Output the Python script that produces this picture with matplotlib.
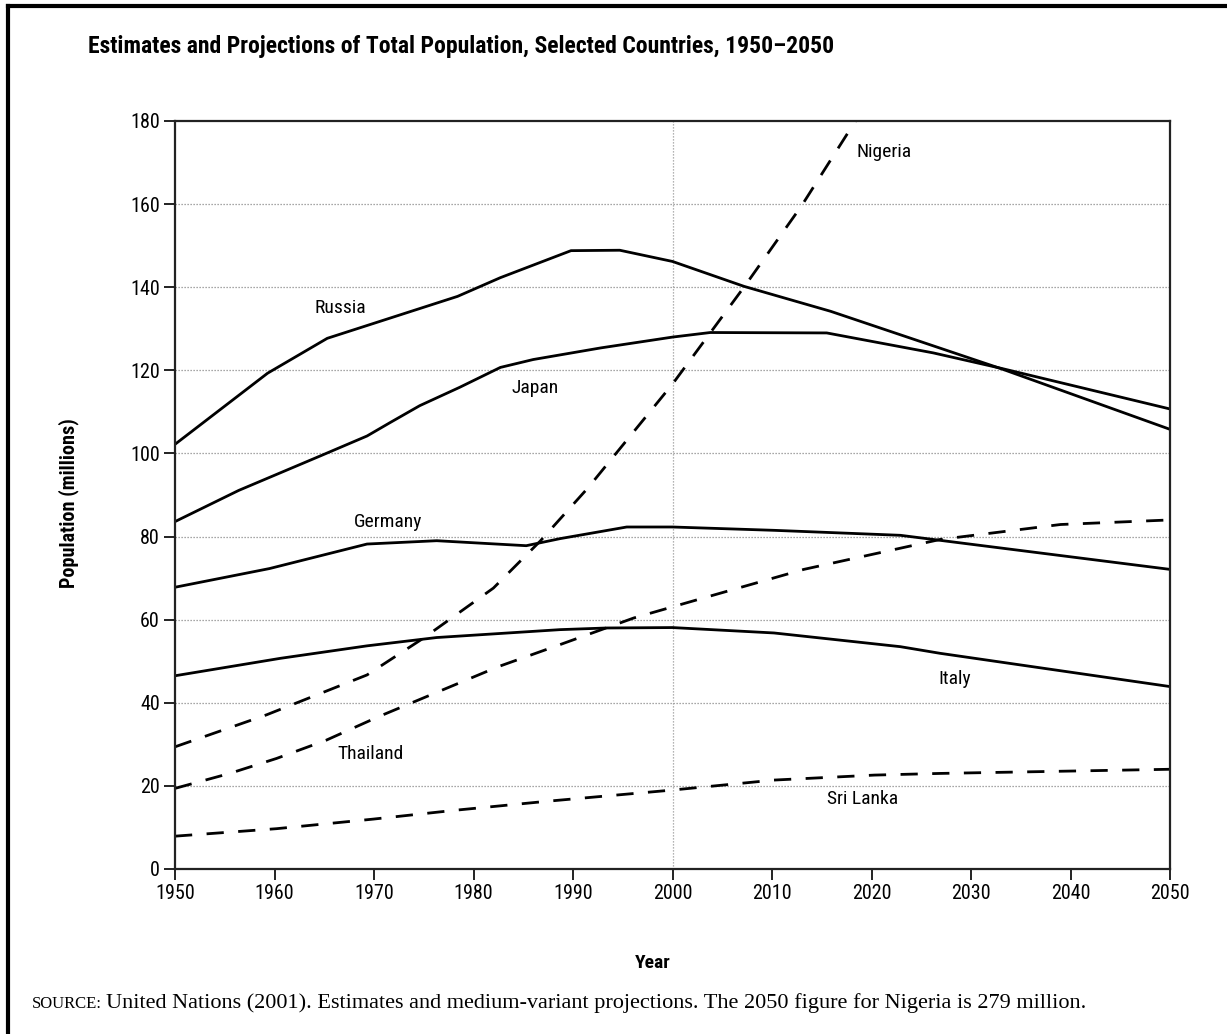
import matplotlib
matplotlib.use("Agg")
import matplotlib.pyplot as plt
from matplotlib import font_manager
from matplotlib.lines import Line2D


def pick_font(candidates):
    for name in candidates:
        try:
            font_manager.findfont(name, fallback_to_default=False)
            return name
        except Exception:
            continue
    return "DejaVu Sans"


SANS = pick_font(["Liberation Sans Narrow", "Roboto Condensed", "Liberation Sans"])
SERIF = pick_font(["Liberation Serif", "DejaVu Serif"])

# Population series (millions)
russia_years = [1950, 1959.3, 1965.3, 1978.4, 1982.7, 1989.8, 1994.7, 2000, 2007.2, 2015.9, 2032.9, 2050]
russia_pop = [102.2, 119.3, 127.7, 137.8, 142.3, 148.8, 148.9, 146.2, 140.2, 134.2, 120.5, 105.8]

japan_years = [1950, 1956.4, 1964.6, 1969.3, 1971.6, 1974.6, 1978.6, 1982.7, 1986, 1992.8, 2000,
               2003.8, 2015.5, 2026.2, 2033, 2050]
japan_pop = [83.6, 91.1, 99.4, 104.2, 107.4, 111.5, 115.9, 120.7, 122.6, 125.4, 128.0,
             129.1, 129.0, 124.2, 120.5, 110.7]

germany_years = [1950, 1959.5, 1969.3, 1976.3, 1985.3, 1988.7, 1995.4, 2000, 2010.2, 2022.9, 2050]
germany_pop = [67.8, 72.3, 78.2, 79.0, 77.8, 79.5, 82.3, 82.3, 81.5, 80.3, 72.1]

italy_years = [1950, 1960.6, 1969.3, 1976.3, 1988.7, 1993.4, 2000, 2010.2, 2022.9, 2026.9, 2050]
italy_pop = [46.5, 50.7, 53.7, 55.7, 57.6, 58.0, 58.1, 56.8, 53.5, 51.9, 43.9]

nigeria_years = [1950, 1959.2, 1969.3, 1975, 1982, 1986.7, 1991.5, 2000, 2007.3, 2013, 2018.2,
                 2030, 2040, 2050]
nigeria_pop = [29.4, 37.1, 46.7, 55.6, 67.6, 78.9, 91.7, 116.7, 140.4, 159.7, 179.3,
               222, 252, 279]

thailand_years = [1950, 1955.5, 1960.2, 1965.2, 1970.5, 1976.5, 1982.5, 1988.7, 1996.1, 2002.5,
                  2013.2, 2026.9, 2039, 2050]
thailand_pop = [19.4, 23.0, 26.6, 31.0, 36.7, 42.7, 48.7, 54.0, 60.4, 64.8,
                72.1, 79.3, 82.9, 84.0]

srilanka_years = [1950, 1960.2, 1969.9, 1978, 1987.4, 2000, 2010.2, 2020.3, 2026.9, 2050]
srilanka_pop = [7.9, 9.7, 12.0, 14.1, 16.3, 19.0, 21.4, 22.6, 23.0, 24.0]

x_ticks = [1950, 1960, 1970, 1980, 1990, 2000, 2010, 2020, 2030, 2040, 2050]
y_ticks = [0, 20, 40, 60, 80, 100, 120, 140, 160, 180]

# Label text and anchor (year, value)
labels = [
    ("Nigeria", 2021.3, 172.5),
    ("Russia", 1966.6, 135.1),
    ("Japan", 1986.2, 115.8),
    ("Germany", 1971.4, 83.5),
    ("Italy", 2028.4, 45.8),
    ("Thailand", 1969.6, 27.7),
    ("Sri Lanka", 2019.1, 16.9),
]

W, H = 1227, 1034
fig = plt.figure(figsize=(W / 100, H / 100), dpi=100)
fig.patch.set_facecolor("white")

ax = fig.add_axes([175 / W, 1 - 869 / H, (1170 - 175) / W, (869 - 121) / H])

LW = 2.0
DASH = (6.2, 5.2)
ax.plot(russia_years, russia_pop, color="black", lw=LW, solid_joinstyle="round")
ax.plot(japan_years, japan_pop, color="black", lw=LW, solid_joinstyle="round")
ax.plot(germany_years, germany_pop, color="black", lw=LW, solid_joinstyle="round")
ax.plot(italy_years, italy_pop, color="black", lw=LW, solid_joinstyle="round")
for yrs, vals in [(nigeria_years, nigeria_pop), (thailand_years, thailand_pop),
                  (srilanka_years, srilanka_pop)]:
    ln, = ax.plot(yrs, vals, color="black", lw=LW, dash_capstyle="butt")
    ln.set_dashes(DASH)

ax.set_xlim(1950, 2050)
ax.set_ylim(0, 180)
ax.set_xticks(x_ticks)
ax.set_yticks(y_ticks)

# dotted reference lines
for v in y_ticks[1:-1]:
    ax.axhline(v, color="#8a8a8a", lw=0.9, ls=(0, (1, 1.4)), zorder=0)
ax.axvline(2000, color="#9a9a9a", lw=0.9, ls=(0, (1, 1.4)), zorder=0)

for side, sp in ax.spines.items():
    sp.set_color("#222222")
    sp.set_linewidth(1.6)

ax.tick_params(direction="out", length=8, width=1.4, color="#222222",
               labelsize=14.5, pad=3)
for lab in ax.get_xticklabels() + ax.get_yticklabels():
    lab.set_fontfamily(SANS)

for text, x, y in labels:
    ax.text(x, y, text, ha="center", va="center", fontsize=14, family=SANS)

fig.text(88 / W, 1 - 46 / H,
         "Estimates and Projections of Total Population, Selected Countries, 1950\u20132050",
         ha="left", va="center", fontsize=17, fontweight="heavy", family=SANS)

fig.text(69 / W, 1 - 503 / H, "Population (millions)", rotation=90, ha="center", va="center",
         fontsize=14.5, fontweight="bold", family=SANS)
fig.text(653 / W, 1 - 963 / H, "Year", ha="center", va="center",
         fontsize=14, fontweight="bold", family=SANS)

# Source line with small-caps lead-in
src_y = 1 - 1008 / H
t1 = fig.text(32 / W, src_y, "SOURCE:", ha="left", va="baseline", fontsize=12, family=SERIF)
fig.canvas.draw()
bb = t1.get_window_extent()
fig.text((bb.x1 + 4) / W, src_y,
         "United Nations (2001). Estimates and medium-variant projections. "
         "The 2050 figure for Nigeria is 279 million.",
         ha="left", va="baseline", fontsize=16, family=SERIF)

# outer frame on left and top
fig.add_artist(Line2D([8 / W, 8 / W], [0, 1 - 6 / H], transform=fig.transFigure,
                      color="black", lw=3))
fig.add_artist(Line2D([8 / W, 1], [1 - 6 / H, 1 - 6 / H], transform=fig.transFigure,
                      color="black", lw=3))

fig.savefig("out.png", dpi=100, facecolor="white")
